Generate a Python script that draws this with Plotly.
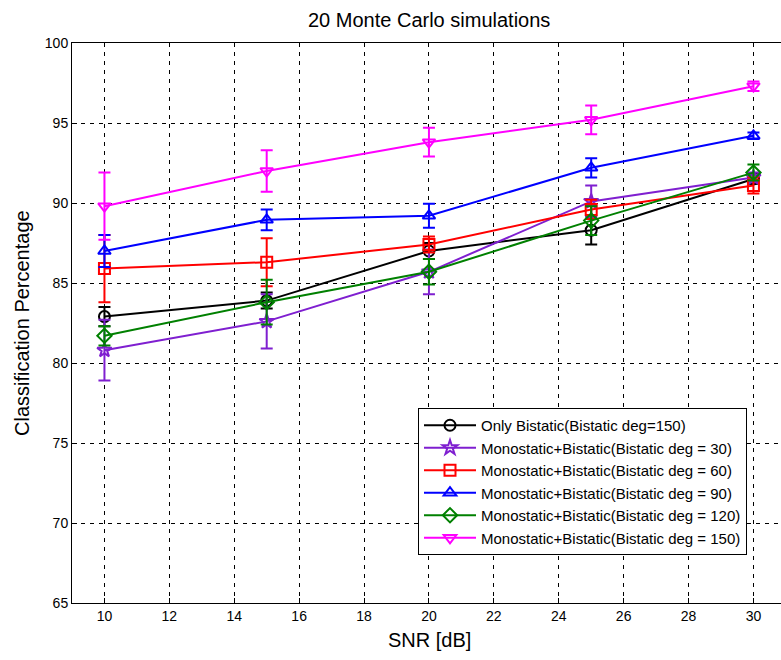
import plotly.graph_objects as go

snr = [10, 15, 20, 25, 30]

names = [
    "Only Bistatic(Bistatic deg=150)",
    "Monostatic+Bistatic(Bistatic deg = 30)",
    "Monostatic+Bistatic(Bistatic deg = 60)",
    "Monostatic+Bistatic(Bistatic deg = 90)",
    "Monostatic+Bistatic(Bistatic deg = 120)",
    "Monostatic+Bistatic(Bistatic deg = 150)",
]

only_bistatic_150 = [82.9, 83.9, 87.0, 88.3, 91.5]
only_bistatic_150_err = [0.6, 0.5, 0.5, 0.9, 0.3]
mono_bi_30 = [80.8, 82.6, 85.7, 90.1, 91.6]
mono_bi_30_err = [1.9, 1.7, 1.4, 1.0, 0.3]
mono_bi_60 = [85.9, 86.3, 87.4, 89.6, 91.1]
mono_bi_60_err = [2.1, 1.5, 0.5, 0.6, 0.5]
mono_bi_90 = [87.0, 88.95, 89.2, 92.2, 94.2]
mono_bi_90_err = [1.0, 0.65, 0.75, 0.6, 0.2]
mono_bi_120 = [81.7, 83.8, 85.7, 88.9, 91.9]
mono_bi_120_err = [0.6, 1.4, 0.8, 0.9, 0.5]
mono_bi_150 = [89.8, 92.0, 93.8, 95.2, 97.3]
mono_bi_150_err = [2.1, 1.3, 0.9, 0.9, 0.3]

x_ticks = [10, 12, 14, 16, 18, 20, 22, 24, 26, 28, 30]
y_ticks = [65, 70, 75, 80, 85, 90, 95, 100]

series = [
    (only_bistatic_150, only_bistatic_150_err, "#000000", "circle-open"),
    (mono_bi_30, mono_bi_30_err, "#7f1fd0", "star-open"),
    (mono_bi_60, mono_bi_60_err, "#ff0000", "square-open"),
    (mono_bi_90, mono_bi_90_err, "#0000ff", "triangle-up-open"),
    (mono_bi_120, mono_bi_120_err, "#008000", "diamond-open"),
    (mono_bi_150, mono_bi_150_err, "#ff00ff", "triangle-down-open"),
]

FONT = "Liberation Sans, Arial, sans-serif"

fig = go.Figure()
for i, ((vals, err, col, sym), nm) in enumerate(zip(series, names)):
    fig.add_trace(go.Scatter(
        x=snr, y=vals, name=nm, mode="lines+markers",
        line=dict(color=col, width=2),
        marker=dict(symbol=sym, size=11, color=col, line=dict(width=2, color=col)),
        error_y=dict(type="data", array=err, visible=True, color=col,
                     thickness=2, width=6),
    ))

W, H = 781, 660
L, R, T, B = 72, 0, 43, 57
px_per_unit = 32.45
x_max = 9 + (W - L - R) / px_per_unit

fig.update_layout(
    width=W, height=H,
    margin=dict(l=L, r=R, t=T, b=B, pad=0),
    paper_bgcolor="white", plot_bgcolor="white",
    font=dict(family=FONT, color="black", size=14),
    showlegend=True,
    legend=dict(
        x=(418 - L) / (W - L - R), y=(603 - 408) / (H - T - B),
        xanchor="left", yanchor="top",
        bgcolor="white", bordercolor="black", borderwidth=1,
        font=dict(family=FONT, size=15, color="black"),
        itemwidth=52,
    ),
    xaxis=dict(
        range=[9, x_max], tickvals=x_ticks, ticktext=[str(v) for v in x_ticks],
        showgrid=True, gridcolor="black", gridwidth=1, griddash="4px,5px",
        showline=True, linecolor="black", linewidth=1, mirror=True,
        ticks="inside", ticklen=5, tickcolor="black",
        zeroline=False, tickfont=dict(size=14),
    ),
    yaxis=dict(
        range=[65, 100], tickvals=y_ticks, ticktext=[str(v) for v in y_ticks],
        showgrid=True, gridcolor="black", gridwidth=1, griddash="4px,5px",
        showline=True, linecolor="black", linewidth=1,
        ticks="inside", ticklen=5, tickcolor="black",
        zeroline=False, tickfont=dict(size=14),
    ),
    annotations=[
        dict(text="20 Monte Carlo simulations", xref="paper", yref="paper",
             x=(429 - L) / (W - L - R), y=1 + (T - 20) / (H - T - B),
             xanchor="center", yanchor="middle", showarrow=False,
             font=dict(family=FONT, size=20)),
        dict(text="SNR [dB]", xref="paper", yref="paper",
             x=(429 - L) / (W - L - R), y=-(640 - 603) / (H - T - B),
             xanchor="center", yanchor="middle", showarrow=False,
             font=dict(family=FONT, size=20)),
        dict(text="Classification Percentage", xref="paper", yref="paper",
             x=-(L - 22) / (W - L - R), y=0.5, textangle=-90,
             xanchor="center", yanchor="middle", showarrow=False,
             font=dict(family=FONT, size=20)),
    ],
)

fig.write_html("out.html", config={"displayModeBar": False},
               post_script="document.body.style.margin='0';")
